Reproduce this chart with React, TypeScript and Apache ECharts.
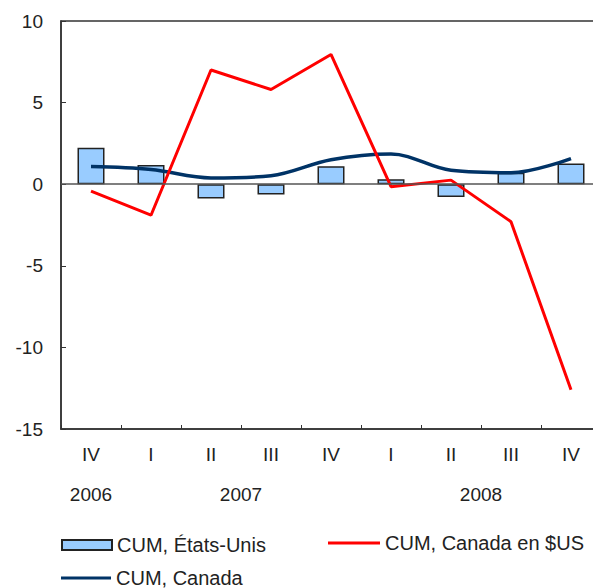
import React, { useEffect, useRef } from "react";
import * as echarts from "echarts";

const quarterLabels = ["IV", "I", "II", "III", "IV", "I", "II", "III", "IV"];
const quarterYears = ["2006", "2007", "2007", "2007", "2007", "2008", "2008", "2008", "2008"];
const yearLabels = ["2006", "2007", "2008"];
const usValues = [2.23, 1.17, -0.88, -0.63, 1.1, 0.3, -0.78, 0.7, 1.27];
const canadaValues = [1.08, 0.9, 0.38, 0.52, 1.5, 1.85, 0.85, 0.7, 1.57];
const canadaUsdValues = [-0.43, -1.9, 7.0, 5.8, 7.95, -0.15, 0.25, -2.3, -12.6];
const yTicks = { min: -15, max: 10, interval: 5 };

const FONT = "'Liberation Sans', Arial, sans-serif";
const TEXT = "#222";

export default function App() {
  const ref = useRef<HTMLDivElement>(null);
  useEffect(() => {
    if (!ref.current) return;
    const chart = echarts.init(ref.current, null, { renderer: "svg" });
    const categories = quarterLabels.map((q, i) => `${quarterYears[i]}|${q}`);
    const legendText = { fontSize: 20, color: TEXT, fontFamily: FONT };
    chart.setOption({
      animation: false,
      backgroundColor: "#fff",
      textStyle: { fontFamily: FONT },
      grid: {
        left: 61,
        top: 21,
        width: 540,
        height: 408,
        outerBoundsMode: "none",
        containLabel: false,
        show: true,
        borderColor: "#333",
        borderWidth: 1.5,
        backgroundColor: "transparent",
      },
      xAxis: {
        type: "category",
        data: categories,
        boundaryGap: true,
        axisLine: { show: true, onZero: false, lineStyle: { color: "#333", width: 1.5 } },
        axisTick: { show: true, inside: true, length: 4, lineStyle: { color: "#333" } },
        axisLabel: {
          margin: 16,
          fontSize: 19,
          color: TEXT,
          fontFamily: FONT,
          formatter: (v: string) => v.split("|")[1],
        },
        splitLine: { show: false },
      },
      yAxis: {
        type: "value",
        min: yTicks.min,
        max: yTicks.max,
        interval: yTicks.interval,
        axisLine: { show: true, lineStyle: { color: "#333", width: 1.5 } },
        axisTick: { show: true, inside: true, length: 5, lineStyle: { color: "#333" } },
        axisLabel: { margin: 18, fontSize: 19, color: TEXT, fontFamily: FONT },
        splitLine: { show: false },
      },
      legend: [
        {
          data: [{ name: "CUM, États-Unis", icon: "rect" }],
          left: 61,
          top: 535,
          itemWidth: 50,
          itemHeight: 10,
          itemGap: 5,
          textStyle: legendText,
          padding: 0,
        },
        {
          data: [{ name: "CUM, Canada en $US", icon: "rect" }],
          left: 328,
          top: 533,
          itemWidth: 52,
          itemHeight: 3,
          textStyle: legendText,
          padding: 0,
        },
        {
          data: [{ name: "CUM, Canada", icon: "rect" }],
          left: 61,
          top: 568,
          itemWidth: 50,
          itemHeight: 3,
          textStyle: legendText,
          padding: 0,
        },
      ],
      series: [
        {
          name: "CUM, États-Unis",
          type: "bar",
          data: usValues,
          barWidth: 27,
          itemStyle: { color: "#99CCFF", borderColor: "#222", borderWidth: 1.5 },
          markLine: {
            silent: true,
            symbol: "none",
            label: { show: false },
            lineStyle: { color: "#555", width: 1.5, type: "solid" },
            data: [{ yAxis: 0 }],
          },
          z: 2,
        },
        {
          name: "CUM, Canada",
          type: "line",
          data: canadaValues,
          smooth: 0.35,
          symbol: "none",
          lineStyle: { color: "#003366", width: 3.5 },
          itemStyle: { color: "#003366" },
          z: 3,
        },
        {
          name: "CUM, Canada en $US",
          type: "line",
          data: canadaUsdValues,
          symbol: "none",
          lineStyle: { color: "#FF0000", width: 3 },
          itemStyle: { color: "#FF0000" },
          z: 4,
        },
      ],
    });
    const xOf = (i: number) => chart.convertToPixel({ xAxisIndex: 0 }, i) as number;
    const graphics = yearLabels.map((yr) => {
      const idx = quarterYears.map((y, i) => (y === yr ? i : -1)).filter((i) => i >= 0);
      const cx = (xOf(idx[0]) + xOf(idx[idx.length - 1])) / 2;
      return {
        type: "text",
        x: cx,
        y: 494,
        style: {
          text: yr,
          fontSize: 19,
          fontFamily: FONT,
          fill: TEXT,
          textAlign: "center",
          textVerticalAlign: "middle",
        },
      };
    });
    chart.setOption({ graphic: graphics });
    return () => chart.dispose();
  }, []);
  return (
    <div
      ref={ref}
      style={{ position: "fixed", left: 0, top: 0, width: 593, height: 588 }}
    />
  );
}
